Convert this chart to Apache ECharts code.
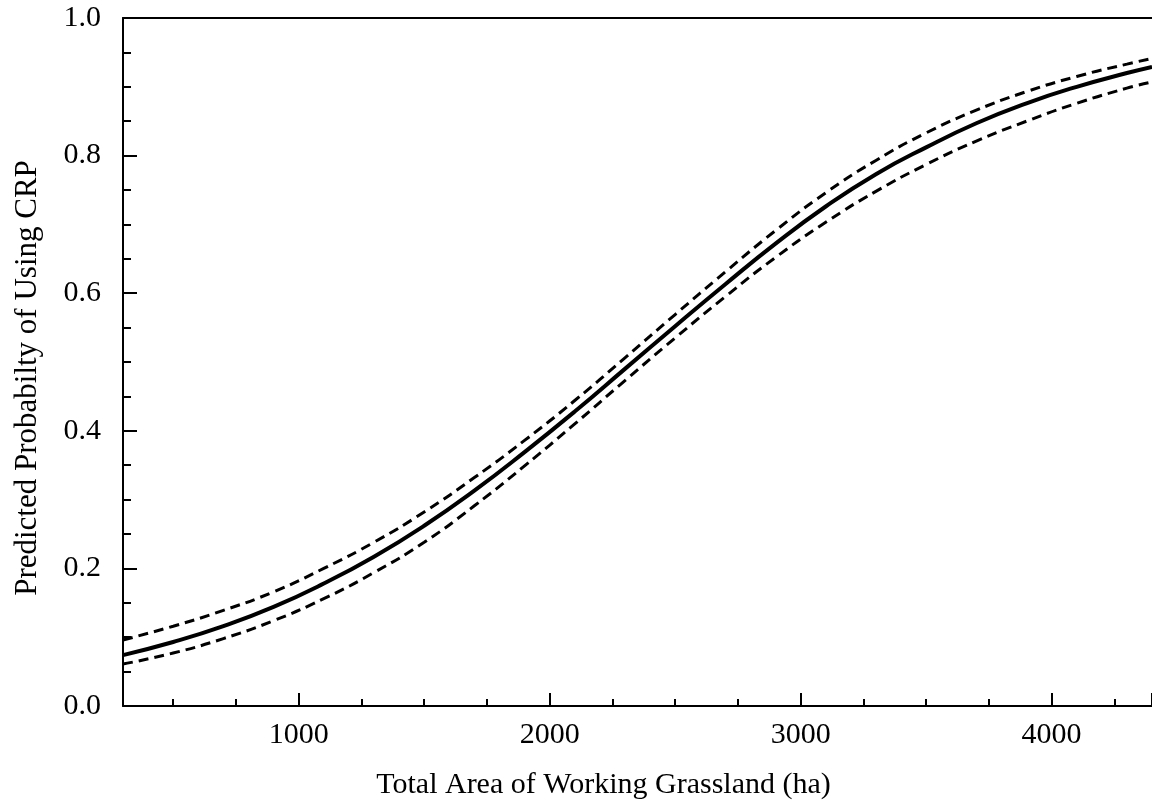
<!DOCTYPE html>
<html>
<head>
<meta charset="utf-8">
<script src="https://cdn.jsdelivr.net/npm/echarts@6/dist/echarts.min.js"></script>
<style>
  html, body { margin: 0; padding: 0; background: #fff; }
  #chart { width: 1152px; height: 810px; }
</style>
</head>
<body>
<div id="chart"></div>
<script>
// grassland area (ha) and predicted probability
const area = [300, 500, 700, 900, 1100, 1300, 1500, 1700, 1900, 2100, 2300,
  2500, 2700, 2900, 3100, 3300, 3500, 3700, 3900, 4100, 4300, 4400]
const predicted = [0.074, 0.093, 0.116, 0.144, 0.178, 0.217, 0.262, 0.313, 0.369, 0.428, 0.490,
  0.552, 0.613, 0.672, 0.726, 0.773, 0.812, 0.847, 0.876, 0.900, 0.920, 0.929]
const upperCI = [0.096, 0.116, 0.139, 0.166, 0.200, 0.238, 0.282, 0.332, 0.386, 0.444, 0.506,
  0.569, 0.631, 0.691, 0.746, 0.793, 0.833, 0.866, 0.893, 0.915, 0.933, 0.941]
const lowerCI = [0.061, 0.077, 0.098, 0.124, 0.156, 0.194, 0.238, 0.291, 0.349, 0.410, 0.473,
  0.535, 0.595, 0.652, 0.703, 0.748, 0.787, 0.821, 0.850, 0.876, 0.898, 0.907]

const font = 'Liberation Serif'
const pairs = ys => area.map((x, i) => [x, ys[i]])

const chart = echarts.init(document.getElementById('chart'), null, { renderer: 'canvas' })

const dashed = {
  type: 'line',
  smooth: true,
  showSymbol: false,
  silent: true,
  lineStyle: { color: '#000', width: 3, type: [10, 6] },
  z: 2
}

chart.setOption({
  animation: false,
  backgroundColor: '#fff',
  grid: { left: 123, top: 18, right: 0, bottom: 104 },
  xAxis: [{
    type: 'value',
    min: 300,
    max: 4400,
    minInterval: 1000,
    maxInterval: 1000,
    name: 'Total Area of Working Grassland (ha)',
    nameLocation: 'middle',
    nameGap: 64,
    nameTextStyle: { fontFamily: font, fontSize: 30, color: '#000', padding: [0, 68, 0, 0] },
    axisLine: { show: true, onZero: false, lineStyle: { color: '#000', width: 2 } },
    axisTick: { show: true, inside: true, length: 13, lineStyle: { color: '#000', width: 2 } },
    minorTick: { show: true, splitNumber: 4, length: 7, lineStyle: { color: '#000', width: 2 } },
    axisLabel: {
      fontFamily: font, fontSize: 30, color: '#000', margin: 14,
      showMinLabel: false, showMaxLabel: false,
      formatter: v => (v % 1000 === 0 ? String(v) : '')
    },
    splitLine: { show: false },
    minorSplitLine: { show: false }
  }, {
    // top frame line
    type: 'value',
    position: 'top',
    min: 300,
    max: 4400,
    axisLine: { show: true, onZero: false, lineStyle: { color: '#000', width: 2 } },
    axisTick: { show: false },
    axisLabel: { show: false },
    splitLine: { show: false }
  }],
  yAxis: {
    type: 'value',
    min: 0,
    max: 1,
    interval: 0.2,
    name: 'Predicted Probabilty of Using CRP',
    nameLocation: 'middle',
    nameGap: 80,
    nameTextStyle: { fontFamily: font, fontSize: 31, color: '#000', padding: [0, 32, 0, 0] },
    axisLine: { show: true, onZero: false, lineStyle: { color: '#000', width: 2 } },
    axisTick: { show: true, inside: true, length: 14, lineStyle: { color: '#000', width: 2 } },
    minorTick: { show: true, splitNumber: 4, length: 8, lineStyle: { color: '#000', width: 2 } },
    axisLabel: {
      fontFamily: font, fontSize: 30, color: '#000', margin: 22,
      formatter: v => v.toFixed(1)
    },
    splitLine: { show: false },
    minorSplitLine: { show: false }
  },
  series: [
    Object.assign({ name: 'upper', data: pairs(upperCI) }, dashed),
    Object.assign({ name: 'lower', data: pairs(lowerCI) }, dashed),
    {
      name: 'predicted',
      type: 'line',
      smooth: true,
      showSymbol: false,
      silent: true,
      data: pairs(predicted),
      lineStyle: { color: '#000', width: 4 },
      z: 3
    }
  ]
})
</script>
</body>
</html>
